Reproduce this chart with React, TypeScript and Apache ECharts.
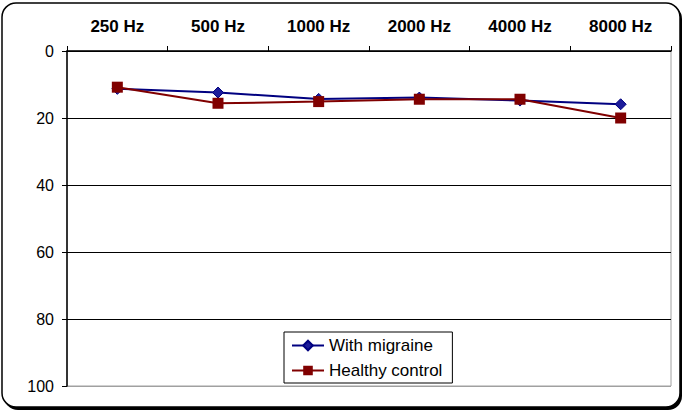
import React, { useEffect, useRef } from "react";
import * as echarts from "echarts";

const categories = ["250 Hz", "500 Hz", "1000 Hz", "2000 Hz", "4000 Hz", "8000 Hz"];
const withMigraine = [11.3, 12.4, 14.3, 13.9, 14.8, 15.9];
const healthyControl = [10.8, 15.6, 15.1, 14.4, 14.4, 20.0];
const yTicks = { min: 0, max: 100, interval: 20 };

const FONT = "'Liberation Sans', Arial, sans-serif";

export default function App() {
  const ref = useRef<HTMLDivElement>(null);
  useEffect(() => {
    if (!ref.current) return;
    const chart = echarts.init(ref.current, null, { renderer: "svg" });
    chart.setOption({
      animation: false,
      backgroundColor: "#fff",
      graphic: [
        {
          type: "rect",
          z: -10,
          shape: { x: 4, y: 5, width: 678, height: 405, r: 14 },
          style: { fill: "#000" },
          silent: true,
        },
        {
          type: "rect",
          z: -9,
          shape: { x: 2, y: 3, width: 678, height: 404, r: 14 },
          style: { fill: "#fff", stroke: "#000", lineWidth: 1.5 },
          silent: true,
        },
      ],
      grid: {
        left: 67,
        right: 14,
        top: 51,
        bottom: 27,
        show: true,
        borderColor: "#a0a0a0",
        borderWidth: 1,
        backgroundColor: "transparent",
      },
      legend: {
        orient: "vertical",
        left: 284,
        top: 332,
        padding: [5, 10, 4, 7],
        itemGap: 8,
        itemWidth: 32,
        itemHeight: 12,
        backgroundColor: "#fff",
        borderColor: "#000",
        borderWidth: 1,
        borderRadius: 0,
        textStyle: { fontFamily: FONT, fontSize: 17, color: "#000" },
        data: ["With migraine", "Healthy control"],
      },
      xAxis: {
        type: "category",
        position: "top",
        data: categories,
        boundaryGap: true,
        axisLine: { show: true, lineStyle: { color: "#000", width: 1.5 } },
        axisTick: { show: true, length: 5, lineStyle: { color: "#000" } },
        axisLabel: {
          fontFamily: FONT,
          fontSize: 17,
          fontWeight: "bold",
          color: "#000",
          margin: 16,
        },
        splitLine: { show: false },
      },
      yAxis: {
        type: "value",
        inverse: true,
        min: yTicks.min,
        max: yTicks.max,
        interval: yTicks.interval,
        axisLine: { show: true, lineStyle: { color: "#000", width: 1.5 } },
        axisTick: { show: true, length: 5, lineStyle: { color: "#000" } },
        axisLabel: { fontFamily: FONT, fontSize: 16, color: "#000", margin: 13 },
        splitLine: {
          show: true,
          lineStyle: { color: ["#000", "#000", "#000", "#000", "#000", "#a0a0a0"], width: 1 },
        },
      },
      series: [
        {
          name: "With migraine",
          type: "line",
          data: withMigraine,
          symbol: "diamond",
          symbolSize: 11,
          lineStyle: { color: "#000080", width: 2 },
          itemStyle: { color: "#1c1c9a", borderColor: "#000080", borderWidth: 1 },
          z: 3,
        },
        {
          name: "Healthy control",
          type: "line",
          data: healthyControl,
          symbol: "rect",
          symbolSize: 11,
          lineStyle: { color: "#800000", width: 2 },
          itemStyle: { color: "#800000" },
          z: 4,
        },
      ],
    });
    return () => chart.dispose();
  }, []);
  return (
    <div
      ref={ref}
      style={{ position: "fixed", left: 0, top: 0, width: 685, height: 413 }}
    />
  );
}
